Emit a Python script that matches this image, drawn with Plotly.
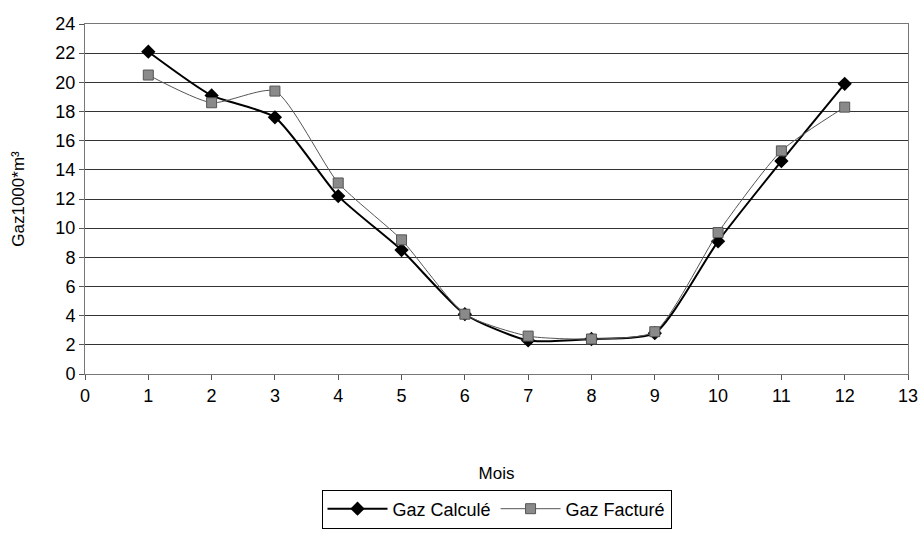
import plotly.graph_objects as go

mois = [1, 2, 3, 4, 5, 6, 7, 8, 9, 10, 11, 12]
gaz_calcule = [22.1, 19.1, 17.6, 12.2, 8.5, 4.1, 2.3, 2.4, 2.8, 9.1, 14.6, 19.9]
gaz_facture = [20.5, 18.6, 19.4, 13.1, 9.2, 4.1, 2.6, 2.4, 2.9, 9.7, 15.3, 18.3]

font = "Liberation Sans, Arial, sans-serif"

fig = go.Figure()
fig.add_trace(go.Scatter(
    x=mois, y=gaz_calcule, name="Gaz Calculé", mode="lines+markers",
    line=dict(color="black", width=2, shape="spline", smoothing=0.6),
    marker=dict(symbol="diamond", size=11, color="black"),
))
fig.add_trace(go.Scatter(
    x=mois, y=gaz_facture, name="Gaz Facturé", mode="lines+markers",
    line=dict(color="#555555", width=1, shape="spline", smoothing=0.6),
    marker=dict(symbol="square", size=10, color="#8a8a8a",
                line=dict(color="#555555", width=1)),
))

fig.update_layout(
    width=924, height=533,
    margin=dict(l=85, r=16, t=24, b=159, autoexpand=False),
    paper_bgcolor="white", plot_bgcolor="white",
    font=dict(family=font, size=18, color="black"),
    showlegend=True,
    legend=dict(orientation="h", x=0.5, xanchor="center", y=-0.33, yanchor="top",
                bordercolor="black", borderwidth=1, font=dict(size=18),
                itemwidth=60, tracegroupgap=0),
    xaxis=dict(
        range=[0, 13], dtick=1, tick0=0, automargin=False,
        showgrid=False, zeroline=False,
        ticks="outside", ticklen=5, tickcolor="#555555",
        tickfont=dict(size=18, family=font),
        showline=True, linecolor="#777777", linewidth=1, mirror=True,
        title=dict(text="Mois", standoff=62, font=dict(size=17)),
    ),
    yaxis=dict(
        range=[0, 24], dtick=2, tick0=0, automargin=False,
        showgrid=True, gridcolor="#333333", gridwidth=1, zeroline=False,
        ticks="outside", ticklen=5, tickcolor="#555555",
        tickfont=dict(size=18, family=font),
        showline=True, linecolor="#777777", linewidth=1, mirror=True,
        title=dict(text="Gaz1000*m³", standoff=26, font=dict(size=17)),
    ),
)

fig.write_html("out.html")
